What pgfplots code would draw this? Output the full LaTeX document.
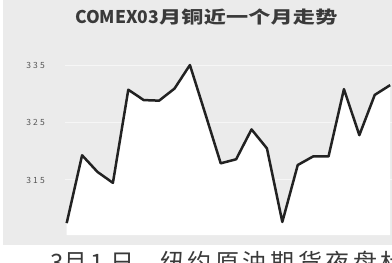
\documentclass[border=0pt]{standalone}
\usepackage{pgfplots}
\pgfplotsset{compat=1.18}
\usepackage{fontspec}
\setmainfont{Noto Sans CJK SC}
\newfontfamily\cjk{Noto Sans CJK SC}
\definecolor{bg}{HTML}{EBEBEB}
\definecolor{ln}{HTML}{222222}
\definecolor{tt}{HTML}{3A3A3A}
\definecolor{tk}{HTML}{555555}
\newcommand\cb[2]{\makebox[#1][l]{#2}}
\newcommand\tc[1]{\makebox[22.3pt][c]{\scalebox{1.3}[1]{#1}}}
\begin{document}
\begin{tikzpicture}[x=1pt,y=1pt]
\clip (0,0) rectangle (392,-263);
\path (0,0) rectangle (392,-263);
\fill[bg] (3,0) rectangle (392,-245);
\node[anchor=base west,inner sep=0pt,text=tt] at (75,-23.5) {\cjk\fontsize{17.5}{18}\selectfont\bfseries COMEX03\fontsize{17}{18}\selectfont\tc{月}\tc{铜}\tc{近}\tc{一}\tc{个}\tc{月}\tc{走}\tc{势}};
\node[anchor=base west,inner sep=0pt,text=tt] at (50,-271) {\cjk\fontsize{24}{26}\selectfont\cb{13pt}{3}\cb{27pt}{月}\cb{20pt}{1}\cb{27pt}{日}\cb{23pt}{，}\cb{27.6pt}{纽}\cb{27.6pt}{约}\cb{27.6pt}{原}\cb{27.6pt}{油}\cb{27.6pt}{期}\cb{27.6pt}{货}\cb{27.6pt}{夜}\cb{27.6pt}{盘}\cb{27.6pt}{杜}};
\begin{axis}[
  at={(65pt,-235pt)}, anchor=south west,
  scale only axis, width=327pt, height=175pt,
  xmin=-0.11, xmax=21.12, ymin=305.43, ymax=335.87,
  axis line style={draw=none},
  major tick length=0pt,
  xtick=\empty,
  ytick={315,325,335},
  yticklabels={315,325,335},
  yticklabel style={anchor=east, inner sep=0pt, xshift=-20pt, text=tk, font=\cjk\fontsize{8.5}{9}\selectfont\addfontfeatures{LetterSpace=25}},
  ymajorgrids,
  grid style={color=white!55!bg, line width=1pt},
]
\addplot[fill=white, draw=none] coordinates {
(0,307.5) (1,319.3) (2,316.4) (3,314.5) (4,330.7) (5,328.9) (6,328.8) (7,330.9)
(8,335.0) (9,326.5) (10,317.9) (11,318.6) (12,323.8) (13,320.5) (14,307.7)
(15,317.6) (16,319.1) (17,319.1) (18,330.8) (19,322.8) (20,329.8) (21,331.5)
} \closedcycle;
\addplot[draw=ln, line width=2.5pt, line join=round] coordinates {
(0,307.5) (1,319.3) (2,316.4) (3,314.5) (4,330.7) (5,328.9) (6,328.8) (7,330.9)
(8,335.0) (9,326.5) (10,317.9) (11,318.6) (12,323.8) (13,320.5) (14,307.7)
(15,317.6) (16,319.1) (17,319.1) (18,330.8) (19,322.8) (20,329.8) (21,331.5)
};
\end{axis}
\end{tikzpicture}
\end{document}
